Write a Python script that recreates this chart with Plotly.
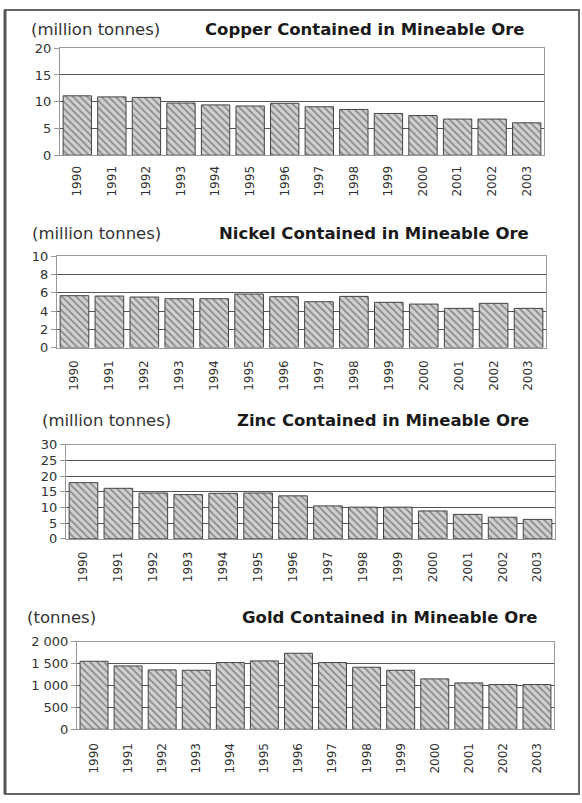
import plotly.graph_objects as go

W, H = 582, 803

years = [str(y) for y in range(1990, 2004)]

copper = [11.1, 10.9, 10.8, 9.75, 9.4, 9.2, 9.7, 9.05, 8.55, 7.8, 7.4, 6.75, 6.75, 6.05]
nickel = [5.68, 5.64, 5.53, 5.35, 5.35, 5.86, 5.57, 5.02, 5.6, 4.95, 4.76, 4.29, 4.84, 4.29]
zinc = [17.9, 16.1, 14.6, 14.1, 14.5, 14.6, 13.7, 10.5, 10.1, 10.1, 8.9, 7.8, 6.9, 6.2]
gold = [1557, 1450, 1359, 1351, 1527, 1565, 1740, 1527, 1420, 1351, 1153, 1061, 1023, 1023]

titles = ["Copper Contained in Mineable Ore", "Nickel Contained in Mineable Ore",
          "Zinc Contained in Mineable Ore", "Gold Contained in Mineable Ore"]
units = ["(million tonnes)", "(million tonnes)", "(million tonnes)", "(tonnes)"]

copper_ticks = [0, 5, 10, 15, 20]
nickel_ticks = [0, 2, 4, 6, 8, 10]
zinc_ticks = [0, 5, 10, 15, 20, 25, 30]
gold_ticks = [0, 500, 1000, 1500, 2000]
gold_ticktext = ["0", "500", "1 000", "1 500", "2 000"]

series = [copper, nickel, zinc, gold]
tickvals = [copper_ticks, nickel_ticks, zinc_ticks, gold_ticks]
ticktexts = [[str(v) for v in copper_ticks], [str(v) for v in nickel_ticks],
             [str(v) for v in zinc_ticks], gold_ticktext]

# layout geometry in pixels: (left, right, top, bottom)
boxes = [(60, 544, 42, 151), (57, 546, 254, 347), (66, 555, 446, 542), (77, 554, 647, 736)]
unit_pos = [(29, 23), (30, 231), (40, 421), (25, 622)]
title_pos = [(527, 23), (531, 231), (531, 421), (540, 622)]
standoff = [5, 7, 7, 8]

FONT = "DejaVu Sans, sans-serif"

fig = go.Figure()
layout = dict(
    width=W, height=H, margin=dict(l=0, r=0, t=0, b=0),
    paper_bgcolor="white", plot_bgcolor="white", showlegend=False,
    font=dict(family=FONT, color="#333"), bargap=0.18,
)

annotations = []
for i, vals in enumerate(series):
    n = "" if i == 0 else str(i + 1)
    xa, ya = "x" + n, "y" + n
    fig.add_trace(go.Bar(
        x=years, y=vals, xaxis=xa, yaxis=ya,
        marker=dict(color="#d0d0d0", line=dict(color="#444", width=1),
                    pattern=dict(shape="\\", fillmode="overlay", fgcolor="#3a3a3a",
                                 size=5, solidity=0.32)),
        hoverinfo="x+y",
    ))
    l, r, t, b = boxes[i]
    layout["xaxis" + n] = dict(
        domain=[l / W, r / W], anchor=ya, type="category", tickangle=-90,
        showgrid=False, showline=True, linecolor="#999", mirror=True, ticks="",
        tickfont=dict(size=12, color="#333"), ticklabelstandoff=standoff[i],
    )
    layout["yaxis" + n] = dict(
        domain=[1 - b / H, 1 - t / H], anchor=xa, range=[0, tickvals[i][-1]],
        tickvals=tickvals[i], ticktext=ticktexts[i], showgrid=True, gridcolor="#555",
        gridwidth=1, showline=True, linecolor="#999", mirror=True, ticks="outside",
        ticklen=5, tickcolor="#999", zeroline=False, tickfont=dict(size=13, color="#333"),
    )
    ux, uy = unit_pos[i]
    annotations.append(dict(x=ux / W, y=1 - uy / H, xref="paper", yref="paper",
                            text=units[i], showarrow=False, xanchor="left", yanchor="middle",
                            font=dict(size=16.5, color="#333", family=FONT)))
    tx, ty = title_pos[i]
    annotations.append(dict(x=tx / W, y=1 - ty / H, xref="paper", yref="paper",
                            text="<b>" + titles[i] + "</b>", showarrow=False,
                            xanchor="right", yanchor="middle",
                            font=dict(size=16.5, color="#1a1a1a", family=FONT)))

layout["annotations"] = annotations
layout["shapes"] = [
    dict(type="rect", xref="paper", yref="paper", x0=5 / W, x1=579 / W,
         y0=1 - 802 / H, y1=1 - 3 / H, line=dict(color="#666", width=2)),
    dict(type="line", xref="paper", yref="paper", x0=5 / W, x1=5 / W,
         y0=1 - 802 / H, y1=1 - 3 / H, line=dict(color="#555", width=3)),
]
fig.update_layout(**layout)

post = ("document.documentElement.style.margin='0';document.body.style.margin='0';"
        "document.body.style.padding='0';document.body.style.overflow='hidden';"
        "document.documentElement.style.overflow='hidden';"
        "var d=document.getElementById('{plot_id}');d.style.position='fixed';"
        "d.style.top='0px';d.style.left='0px';")
fig.write_html("out.html", config={"displayModeBar": False}, post_script=post)
